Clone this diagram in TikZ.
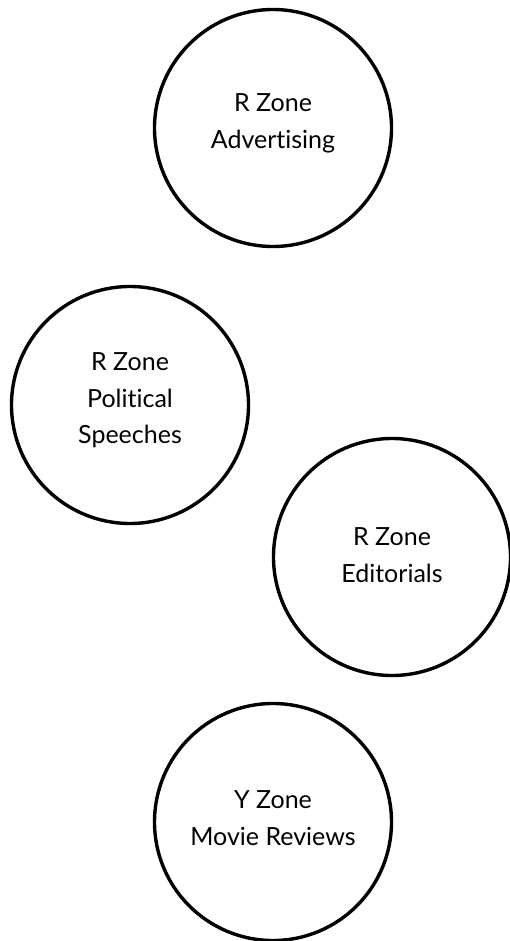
\documentclass[tikz,border=0pt]{standalone}
\usepackage{fontspec}
\setmainfont{Lato}[Ligatures={NoCommon}]
\begin{document}
\begin{tikzpicture}[x=1pt,y=-1pt,
  zone/.style={circle,draw=black,line width=3.4pt,minimum size=237pt,inner sep=0pt},
  lbl/.style={align=center,inner sep=0pt,font=\fontsize{25}{36.5}\selectfont,text=black}]
  \useasboundingbox (0,0) rectangle (510,941);
  % zone circles
  \node[zone] (adv) at (273,128) {};
  \node[zone] (pol) at (130,405) {};
  \node[zone] (edi) at (392,557) {};
  \node[zone] (mov) at (273,822) {};
  % labels
  \node[lbl] (advt) at ([yshift=4.5pt]adv.center) {R Zone\\Advertising};
  \node[lbl] (polt) at ([yshift=4.5pt]pol.center) {R Zone\\Political\\Speeches};
  \node[lbl] (edit) at ([yshift=2pt]edi.center) {R Zone\\Editorials};
  \node[lbl] (movt) at ([yshift=4pt]mov.center) {Y Zone\\Movie Reviews};
\end{tikzpicture}
\end{document}
